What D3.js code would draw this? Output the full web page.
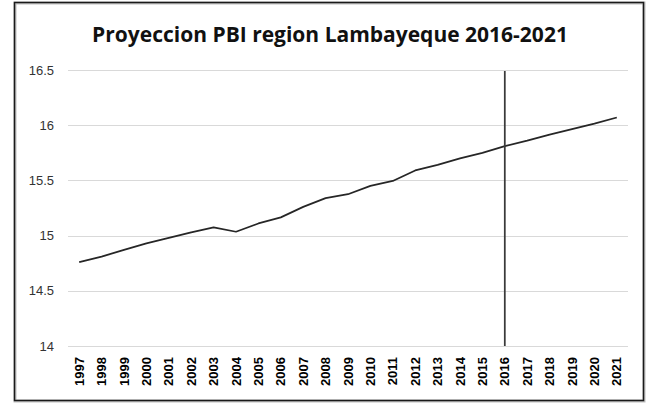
<!DOCTYPE html>
<html>
<head>
<meta charset="utf-8">
<script src="https://cdn.jsdelivr.net/npm/d3@7"></script>
<style>
    body { margin: 0; background: #fff; }
    svg { display: block; }
</style>
</head>
<body>
<div id="chart"></div>
<script>

// data
var years = ["1997", "1998", "1999", "2000", "2001", "2002", "2003", "2004", "2005", "2006",
    "2007", "2008", "2009", "2010", "2011", "2012", "2013", "2014", "2015", "2016",
    "2017", "2018", "2019", "2020", "2021"];
var pbi = [14.76, 14.81, 14.87, 14.93, 14.98, 15.03, 15.075, 15.035, 15.11, 15.165,
    15.26, 15.34, 15.375, 15.45, 15.495, 15.59, 15.64, 15.70, 15.75, 15.81,
    15.86, 15.915, 15.965, 16.015, 16.07];
var yTicks = [14, 14.5, 15, 15.5, 16, 16.5];
var markYear = "2016";
var title = "Proyeccion PBI region Lambayeque 2016-2021";

var width = 648, height = 405;
var plot = {"left": 68, "right": 628, "top": 70, "bottom": 346};

var svg = d3.select("#chart").append("svg")
    .attr("width", width)
    .attr("height", height);

// frame
svg.append("rect")
    .attr("x", 15).attr("y", 3)
    .attr("width", 629).attr("height", 398)
    .attr("fill", "#fff")
    .attr("stroke", "#bfbfbf")
    .attr("stroke-width", 3);
svg.append("rect")
    .attr("x", 14.5).attr("y", 2.5)
    .attr("width", 629).attr("height", 398)
    .attr("fill", "none")
    .attr("stroke", "#1a1a1a")
    .attr("stroke-width", 1.5);

var x = d3.scaleBand()
    .domain(years)
    .range([plot.left, plot.right]);

var y = d3.scaleLinear()
    .domain([14, 16.5])
    .range([plot.bottom, plot.top]);

// gridlines
svg.append("g")
    .selectAll("line")
    .data(yTicks)
    .enter().append("line")
    .attr("x1", plot.left)
    .attr("x2", plot.right)
    .attr("y1", function (d) { return Math.round(y(d)) + 0.5; })
    .attr("y2", function (d) { return Math.round(y(d)) + 0.5; })
    .attr("stroke", "#d9d9d9")
    .attr("stroke-width", 1);

// y labels
svg.append("g")
    .selectAll("text")
    .data(yTicks)
    .enter().append("text")
    .attr("x", 54)
    .attr("y", function (d) { return y(d); })
    .attr("dy", "0.35em")
    .attr("text-anchor", "end")
    .style("font-family", "'Liberation Sans', Arial, sans-serif")
    .style("font-size", "13px")
    .style("fill", "#333")
    .text(function (d) { return d; });

// x labels, rotated
svg.append("g")
    .selectAll("text")
    .data(years)
    .enter().append("text")
    .attr("transform", function (d) {
        return "translate(" + (x(d) + x.bandwidth() / 2) + ",357) rotate(-90)";
    })
    .attr("dy", "0.35em")
    .attr("text-anchor", "end")
    .style("font-family", "'Liberation Sans', Arial, sans-serif")
    .style("font-size", "13px")
    .style("font-weight", "bold")
    .style("fill", "#000")
    .text(function (d) { return d; });

// series line
var line = d3.line()
    .x(function (d, i) { return x(years[i]) + x.bandwidth() / 2; })
    .y(function (d) { return y(d); });

svg.append("path")
    .datum(pbi)
    .attr("d", line)
    .attr("fill", "none")
    .attr("stroke", "#262626")
    .attr("stroke-width", 1.75)
    .attr("stroke-linejoin", "round");

// vertical marker at 2016
svg.append("line")
    .attr("x1", x(markYear) + x.bandwidth() / 2)
    .attr("x2", x(markYear) + x.bandwidth() / 2)
    .attr("y1", y(16.5) + 1)
    .attr("y2", y(14))
    .attr("stroke", "#3a3a3a")
    .attr("stroke-width", 1.75);

// title
svg.append("text")
    .attr("x", 330)
    .attr("y", 42)
    .attr("text-anchor", "middle")
    .style("font-family", "'Open Sans', 'Liberation Sans', sans-serif")
    .style("font-size", "21px")
    .style("font-weight", "bold")
    .style("fill", "#111")
    .text(title);

</script>
</body>
</html>
